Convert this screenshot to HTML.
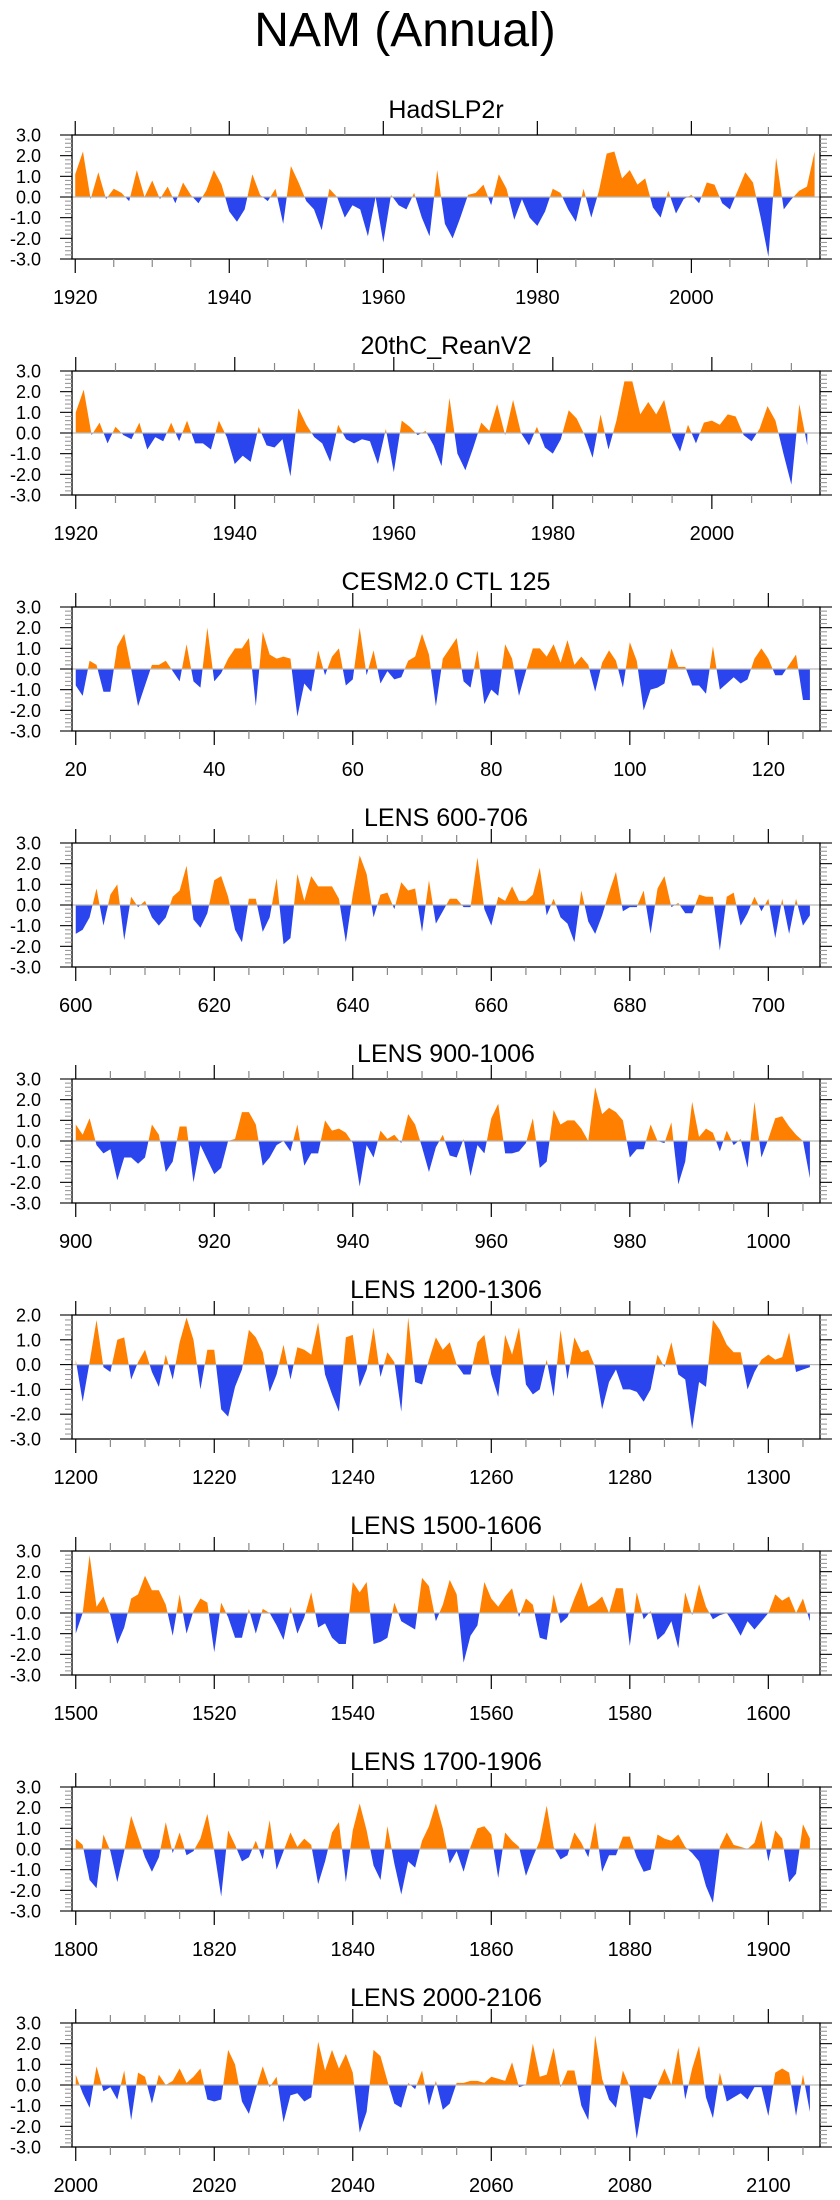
<!DOCTYPE html>
<html><head><meta charset="utf-8"><title>NAM (Annual)</title>
<style>
html,body{margin:0;padding:0;background:#fff;}
svg{display:block;font-family:"Liberation Sans",Arial,sans-serif;}
</style></head>
<body>
<svg id="chart" width="840" height="2200" viewBox="0 0 840 2200" xmlns="http://www.w3.org/2000/svg">
<rect width="840" height="2200" fill="#fff"/>
<text x="405" y="46" font-size="48" text-anchor="middle" fill="#000">NAM (Annual)</text>
</svg>
<script>
const panelTitles = ["HadSLP2r","20thC_ReanV2","CESM2.0 CTL 125","LENS 600-706","LENS 900-1006","LENS 1200-1306","LENS 1500-1606","LENS 1700-1906","LENS 2000-2106"];
const startYears = [1920,1920,20,600,900,1200,1500,1800,2000];
const xTickLabels = [
 [1920,1940,1960,1980,2000],[1920,1940,1960,1980,2000],[20,40,60,80,100,120],
 [600,620,640,660,680,700],[900,920,940,960,980,1000],[1200,1220,1240,1260,1280,1300],
 [1500,1520,1540,1560,1580,1600],[1800,1820,1840,1860,1880,1900],[2000,2020,2040,2060,2080,2100]];
const xMins = [1919.58,1919.53,19.46,599.46,899.46,1199.46,1499.46,1799.46,1999.46];
const xMaxs = [2016.7,2013.6,127.46,707.46,1007.46,1307.46,1607.46,1907.46,2107.46];
const yMins = [-3,-3,-3,-3,-3,-3,-3,-3,-3];
const yMaxs = [3,3,3,3,3,2,3,3,3];

const hadslp = [1.1,2.2,-0.1,1.2,-0.1,0.4,0.2,-0.2,1.3,0.0,0.8,-0.1,0.5,-0.3,0.7,0.1,-0.3,0.3,1.3,0.6,
-0.7,-1.2,-0.6,1.1,0.1,-0.2,0.4,-1.3,1.5,0.7,-0.2,-0.6,-1.6,0.4,0.0,-1.0,-0.4,-0.6,-1.9,0.0,
-2.2,0.1,-0.4,-0.6,0.2,-1.0,-1.9,1.3,-1.3,-2.0,-1.0,0.1,0.2,0.6,-0.4,1.1,0.4,-1.1,-0.1,-1.0,
-1.4,-0.7,0.4,0.2,-0.6,-1.2,0.4,-1.0,0.3,2.1,2.2,0.9,1.3,0.6,0.9,-0.5,-1.0,0.3,-0.8,-0.1,
0.1,-0.3,0.7,0.6,-0.3,-0.6,0.3,1.2,0.7,-1.0,-2.9,1.9,-0.6,-0.1,0.3,0.5,2.2];
const reanv2 = [1.0,2.1,-0.1,0.5,-0.5,0.3,-0.1,-0.3,0.5,-0.8,-0.2,-0.4,0.5,-0.4,0.6,-0.5,-0.5,-0.8,0.6,-0.2,
-1.5,-1.1,-1.4,0.3,-0.6,-0.7,-0.3,-2.1,1.2,0.4,-0.2,-0.5,-1.4,0.4,-0.3,-0.5,-0.3,-0.4,-1.5,0.2,
-1.9,0.6,0.3,-0.1,0.1,-0.6,-1.6,1.7,-1.0,-1.8,-0.7,0.5,0.1,1.4,-0.1,1.6,0.0,-0.6,0.3,-0.7,
-1.0,-0.3,1.1,0.7,-0.1,-1.2,0.9,-0.8,0.6,2.5,2.5,0.9,1.5,0.9,1.6,-0.1,-0.9,0.4,-0.5,0.5,
0.6,0.4,0.9,0.8,-0.1,-0.4,0.2,1.3,0.6,-1.0,-2.5,1.4,-0.6];
const cesm = [-0.8,-1.3,0.4,0.2,-1.1,-1.1,1.1,1.7,0.0,-1.8,-0.8,0.2,0.2,0.4,-0.1,-0.6,1.2,-0.6,-0.9,2.0,
-0.6,-0.2,0.5,1.0,1.0,1.5,-1.8,1.8,0.7,0.5,0.6,0.5,-2.3,-0.7,-1.1,0.9,-0.3,0.6,1.0,-0.8,
-0.5,2.0,-0.3,0.9,-0.7,-0.1,-0.5,-0.4,0.4,0.6,1.7,0.7,-1.8,0.5,1.0,1.5,-0.6,-0.9,0.9,-1.7,
-1.0,-1.3,1.2,0.5,-1.3,-0.1,1.0,1.0,0.6,1.2,0.3,1.4,0.2,0.6,0.2,-1.1,0.3,0.9,0.4,-0.9,
1.3,0.4,-2.0,-1.0,-0.9,-0.7,1.0,0.1,0.1,-0.8,-0.8,-1.2,1.1,-1.0,-0.7,-0.4,-0.7,-0.5,0.5,1.0,
0.5,-0.3,-0.3,0.2,0.7,-1.5,-1.5];
const lens600 = [-1.4,-1.2,-0.6,0.8,-1.0,0.5,1.0,-1.7,0.4,-0.1,0.2,-0.6,-1.0,-0.6,0.4,0.7,1.9,-0.7,-1.1,-0.4,
1.2,1.4,0.4,-1.2,-1.8,0.3,0.3,-1.3,-0.6,1.3,-1.9,-1.6,1.5,0.2,1.4,0.9,0.9,0.9,0.3,-1.8,
0.5,2.4,1.5,-0.6,0.5,0.6,-0.2,1.1,0.7,0.8,-1.3,1.2,-0.9,-0.3,0.3,0.3,-0.1,-0.1,2.3,-0.2,
-1.0,0.4,0.2,0.9,0.2,0.2,0.5,1.8,-0.5,0.3,-0.6,-0.9,-1.8,0.7,-0.8,-1.4,-0.5,0.6,1.6,-0.3,
-0.1,-0.1,0.7,-1.4,0.8,1.4,-0.1,0.1,-0.4,-0.4,0.5,0.4,0.4,-2.2,0.4,0.6,-1.0,-0.4,0.4,-0.3,
0.3,-1.6,0.3,-1.4,0.3,-1.0,-0.5];
const lens900 = [0.8,0.3,1.1,-0.2,-0.6,-0.4,-1.9,-0.8,-0.8,-1.1,-0.8,0.8,0.3,-1.5,-1.0,0.7,0.7,-2.0,-0.2,-0.9,
-1.6,-1.3,0.0,0.1,1.4,1.4,0.8,-1.2,-0.8,-0.2,0.0,-0.5,0.8,-1.2,-0.6,-0.6,1.0,0.5,0.6,0.4,
-0.1,-2.2,-0.2,-0.8,0.5,0.1,0.3,-0.1,1.3,0.8,-0.3,-1.5,-0.3,0.3,-0.7,-0.8,0.1,-1.7,-0.2,-0.6,
1.1,1.8,-0.6,-0.6,-0.5,-0.1,1.1,-1.3,-1.0,1.5,0.8,1.0,1.0,0.6,0.0,2.6,1.3,1.6,1.4,1.0,
-0.8,-0.4,-0.4,0.8,0.0,-0.1,0.9,-2.1,-1.0,1.9,0.2,0.6,0.4,-0.5,0.5,-0.2,0.1,-1.3,1.9,-0.8,
0.1,1.1,1.2,0.7,0.3,0.0,-1.8];
const lens1200 = [0.2,-1.5,0.1,1.8,-0.1,-0.3,1.0,1.1,-0.6,0.1,0.6,-0.3,-0.9,0.4,-0.6,0.9,1.9,1.0,-1.0,0.6,
0.6,-1.8,-2.1,-0.9,-0.2,1.4,1.1,0.5,-1.1,-0.4,0.8,-0.6,0.7,0.6,0.4,1.7,-0.4,-1.2,-1.9,1.1,
1.2,-0.9,-0.2,1.5,-0.5,0.5,0.1,-1.9,1.9,-0.7,-0.8,0.2,1.1,0.6,0.9,0.0,-0.4,-0.4,0.9,1.2,
-0.4,-1.3,1.2,0.4,1.5,-0.8,-1.2,-1.0,0.2,-1.3,1.4,-0.6,1.1,0.5,0.6,-0.1,-1.8,-0.7,-0.2,-1.0,
-1.0,-1.1,-1.5,-1.0,0.4,-0.1,0.9,-0.4,-0.6,-2.6,-0.7,-0.9,1.8,1.4,0.8,0.5,0.5,-1.0,-0.3,0.2,
0.4,0.2,0.3,1.3,-0.3,-0.2,-0.1];
const lens1500 = [-1.0,0.0,2.8,0.3,0.8,-0.1,-1.5,-0.7,0.7,0.9,1.8,1.1,1.1,0.4,-1.1,0.9,-1.0,0.1,0.7,0.5,
-1.9,0.5,-0.2,-1.2,-1.2,0.2,-1.0,0.2,0.0,-0.6,-1.3,0.3,-1.0,-0.2,1.0,-0.7,-0.5,-1.2,-1.5,-1.5,
1.5,1.0,1.5,-1.5,-1.4,-1.2,0.5,-0.4,-0.6,-0.8,1.7,1.3,-0.4,0.4,1.6,0.9,-2.4,-1.1,-0.6,1.5,
0.7,0.3,0.8,1.2,-0.2,0.7,0.4,-1.2,-1.3,0.9,-0.5,-0.2,0.7,1.5,0.3,0.5,0.8,0.0,1.2,1.2,
-1.6,1.0,-0.3,0.1,-1.3,-1.0,-0.4,-1.7,1.0,-0.1,1.4,0.3,-0.3,-0.1,0.0,-0.5,-1.1,-0.4,-0.8,-0.4,
0.0,0.9,0.6,0.8,0.0,0.7,-0.4];
const lens1800 = [0.5,0.2,-1.5,-1.9,0.7,-0.1,-1.6,-0.1,1.6,0.6,-0.4,-1.1,-0.4,1.3,-0.2,0.8,-0.3,-0.1,0.5,1.7,
-0.1,-2.3,0.9,0.2,-0.6,-0.4,0.4,-0.5,1.4,-1.0,-0.1,0.8,0.1,0.5,0.2,-1.7,-0.6,0.8,1.3,-1.6,
0.9,2.2,0.9,-0.8,-1.5,1.1,-0.7,-2.2,-0.6,-0.9,0.4,1.1,2.2,1.0,-0.7,-0.1,-1.1,0.1,1.0,1.1,
0.7,-1.4,0.8,0.4,0.1,-1.3,-0.4,0.4,2.1,0.1,-0.5,-0.3,0.8,0.3,-0.4,1.3,-1.1,-0.3,-0.3,0.6,
0.6,-0.4,-1.1,-1.0,0.7,0.5,0.4,0.7,0.1,-0.2,-0.6,-1.8,-2.6,0.1,0.8,0.2,0.1,0.0,0.3,1.4,
-0.6,0.9,0.5,-1.6,-1.2,1.2,0.5];
const lens2000 = [0.5,-0.4,-1.1,0.9,-0.3,-0.1,-0.7,0.7,-1.7,0.6,0.4,-0.9,0.5,0.0,0.2,0.8,0.1,0.4,0.8,-0.7,
-0.8,-0.7,1.7,1.0,-0.8,-1.4,-0.2,0.9,-0.1,0.4,-1.8,-0.5,-0.4,-0.8,-0.6,2.1,0.7,1.7,0.8,1.5,
0.6,-2.3,-1.3,1.7,1.4,0.2,-0.9,-1.1,0.1,-0.2,0.7,-1.0,0.2,-1.2,-0.9,0.1,0.1,0.2,0.2,0.1,
0.4,0.3,0.2,1.1,-0.1,0.0,2.0,0.4,0.5,1.8,-0.1,0.7,0.7,-1.0,-1.7,2.4,0.3,-0.7,-1.1,0.7,
-0.1,-2.6,-0.6,-0.7,0.0,0.8,0.0,1.8,-0.7,0.8,1.9,-0.6,-1.6,0.6,-0.8,-0.6,-0.4,-0.7,-0.1,-0.1,
-1.5,0.6,0.8,0.6,-1.5,0.5,-1.3];
const seriesList = [hadslp,reanv2,cesm,lens600,lens900,lens1200,lens1500,lens1800,lens2000];

const NS = "http://www.w3.org/2000/svg";
const svg = document.getElementById("chart");
const BOX_L = 72, BOX_R = 820, BOX_H = 124, FIRST_TOP = 135, STEP = 236;
const ORANGE = "#ff8000", BLUE = "#2a44ee";

function mk(tag, attrs, parent) {
  const e = document.createElementNS(NS, tag);
  for (const k in attrs) e.setAttribute(k, attrs[k]);
  (parent || svg).appendChild(e);
  return e;
}

for (let p = 0; p < panelTitles.length; p++) {
  const top = FIRST_TOP + STEP * p, bot = top + BOX_H;
  const x0 = xMins[p], x1 = xMaxs[p], y0 = yMins[p], y1 = yMaxs[p];
  const X = v => BOX_L + (v - x0) / (x1 - x0) * (BOX_R - BOX_L);
  const Y = v => top + (y1 - v) / (y1 - y0) * BOX_H;

  const g = mk("g", {});
  
  

  const t = mk("text", {x: (BOX_L + BOX_R) / 2, y: top - 17, "font-size": 25, "text-anchor": "middle", fill: "#000"}, g);
  t.textContent = panelTitles[p];
  
  

  const vals = seriesList[p];
  const clipId = "c" + p;
  const defs = mk("defs", {}, g);
  const cpPos = mk("clipPath", {id: clipId + "p"}, defs);
  mk("rect", {x: BOX_L, y: top, width: BOX_R - BOX_L, height: Y(0) - top}, cpPos);
  const cpNeg = mk("clipPath", {id: clipId + "n"}, defs);
  mk("rect", {x: BOX_L, y: Y(0), width: BOX_R - BOX_L, height: bot - Y(0)}, cpNeg);
  let d = "M" + X(startYears[p]).toFixed(2) + "," + Y(0).toFixed(2);
  for (let i = 0; i < vals.length; i++) d += " L" + X(startYears[p] + i).toFixed(2) + "," + Y(vals[i]).toFixed(2);
  d += " L" + X(startYears[p] + vals.length - 1).toFixed(2) + "," + Y(0).toFixed(2) + " Z";
  const pos = mk("path", {d: d, fill: ORANGE, "clip-path": "url(#" + clipId + "p)"}, g);
  
  
  const neg = mk("path", {d: d, fill: BLUE, "clip-path": "url(#" + clipId + "n)"}, g);
  
  

  const zl = mk("line", {x1: BOX_L, x2: BOX_R, y1: Y(0), y2: Y(0), stroke: "#b8b8b8", "stroke-width": 1.2}, g);
  
  

  const box = mk("rect", {x: BOX_L, y: top, width: BOX_R - BOX_L, height: BOX_H, fill: "none", stroke: "#000", "stroke-width": 1.3}, g);
  
  

  const startTick = Math.ceil(x0 / 5) * 5;
  for (let v = startTick; v <= x1; v += 5) {
    const major = v % 20 === 0;
    const L = major ? 14 : 8;
    const col = major ? "#000" : "#888";
    mk("line", {x1: X(v), x2: X(v), y1: bot, y2: bot + L, stroke: col, "stroke-width": 1.2}, g);
    mk("line", {x1: X(v), x2: X(v), y1: top, y2: top - L, stroke: col, "stroke-width": 1.2}, g);
  }
  for (const v of xTickLabels[p]) {
    const tl = mk("text", {x: X(v), y: bot + 45, "font-size": 20, "text-anchor": "middle", fill: "#000"}, g);
    tl.textContent = String(v);
    
    
  }
  for (let k = Math.round(y0 * 5); k <= Math.round(y1 * 5); k++) {
    const v = k / 5;
    const major = k % 5 === 0;
    const L = major ? 12 : 7;
    const col = major ? "#000" : "#999";
    mk("line", {x1: BOX_L, x2: BOX_L - L, y1: Y(v), y2: Y(v), stroke: col, "stroke-width": 1.1}, g);
    mk("line", {x1: BOX_R, x2: BOX_R + L, y1: Y(v), y2: Y(v), stroke: col, "stroke-width": 1.1}, g);
    if (major) {
      const yl = mk("text", {x: 41, y: Y(v) + 6.5, "font-size": 18, "text-anchor": "end", fill: "#000"}, g);
      yl.textContent = v.toFixed(1);
      
      
    }
  }
}
</script>
</body></html>
